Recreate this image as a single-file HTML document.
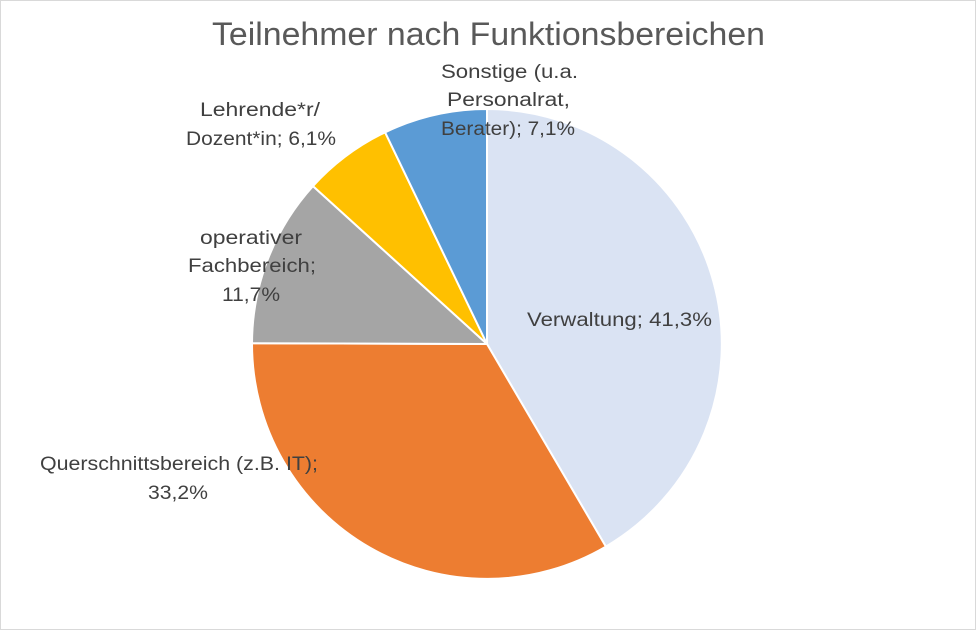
<!DOCTYPE html>
<html><head><meta charset="utf-8"><style>
html,body{margin:0;padding:0;background:#fff;}
svg{display:block;}
text{font-family:"Liberation Sans",sans-serif;fill:#404040;}
</style></head><body>
<svg width="976" height="630" viewBox="0 0 976 630" xmlns="http://www.w3.org/2000/svg">
<rect x="0.5" y="0.5" width="975" height="629" fill="#fff" stroke="#d9d9d9"/>
<text x="212" y="45" textLength="553" lengthAdjust="spacingAndGlyphs" font-size="32" style="fill:#595959">Teilnehmer nach Funktionsbereichen</text>
<g stroke="#fff" stroke-width="2" stroke-linejoin="round">
<path d="M487,344 L487,109 A235,235 0 0 1 605.9,546.6 Z" fill="#DAE3F3"/>
<path d="M487,344 L605.9,546.6 A235,235 0 0 1 252,343.2 Z" fill="#ED7D31"/>
<path d="M487,344 L252,343.2 A235,235 0 0 1 313,186.1 Z" fill="#A5A5A5"/>
<path d="M487,344 L313,186.1 A235,235 0 0 1 385.1,132.3 Z" fill="#FFC000"/>
<path d="M487,344 L385.1,132.3 A235,235 0 0 1 487,109 Z" fill="#5B9BD5"/>
</g>
<g font-size="19" lengthAdjust="spacingAndGlyphs">
<text x="527" y="326" textLength="185" lengthAdjust="spacingAndGlyphs">Verwaltung; 41,3%</text>
<text x="40" y="470" textLength="278" lengthAdjust="spacingAndGlyphs">Querschnittsbereich (z.B. IT);</text>
<text x="148" y="499" textLength="60" lengthAdjust="spacingAndGlyphs">33,2%</text>
<text x="200" y="244" textLength="102" lengthAdjust="spacingAndGlyphs">operativer</text>
<text x="188" y="272" textLength="128" lengthAdjust="spacingAndGlyphs">Fachbereich;</text>
<text x="222" y="301" textLength="58" lengthAdjust="spacingAndGlyphs">11,7%</text>
<text x="200" y="116" textLength="120" lengthAdjust="spacingAndGlyphs">Lehrende*r/</text>
<text x="186" y="145" textLength="150" lengthAdjust="spacingAndGlyphs">Dozent*in; 6,1%</text>
<text x="441" y="78" textLength="137" lengthAdjust="spacingAndGlyphs">Sonstige (u.a.</text>
<text x="447" y="106" textLength="123" lengthAdjust="spacingAndGlyphs">Personalrat,</text>
<text x="441" y="135" textLength="134" lengthAdjust="spacingAndGlyphs">Berater); 7,1%</text>
</g>
</svg>
</body></html>
